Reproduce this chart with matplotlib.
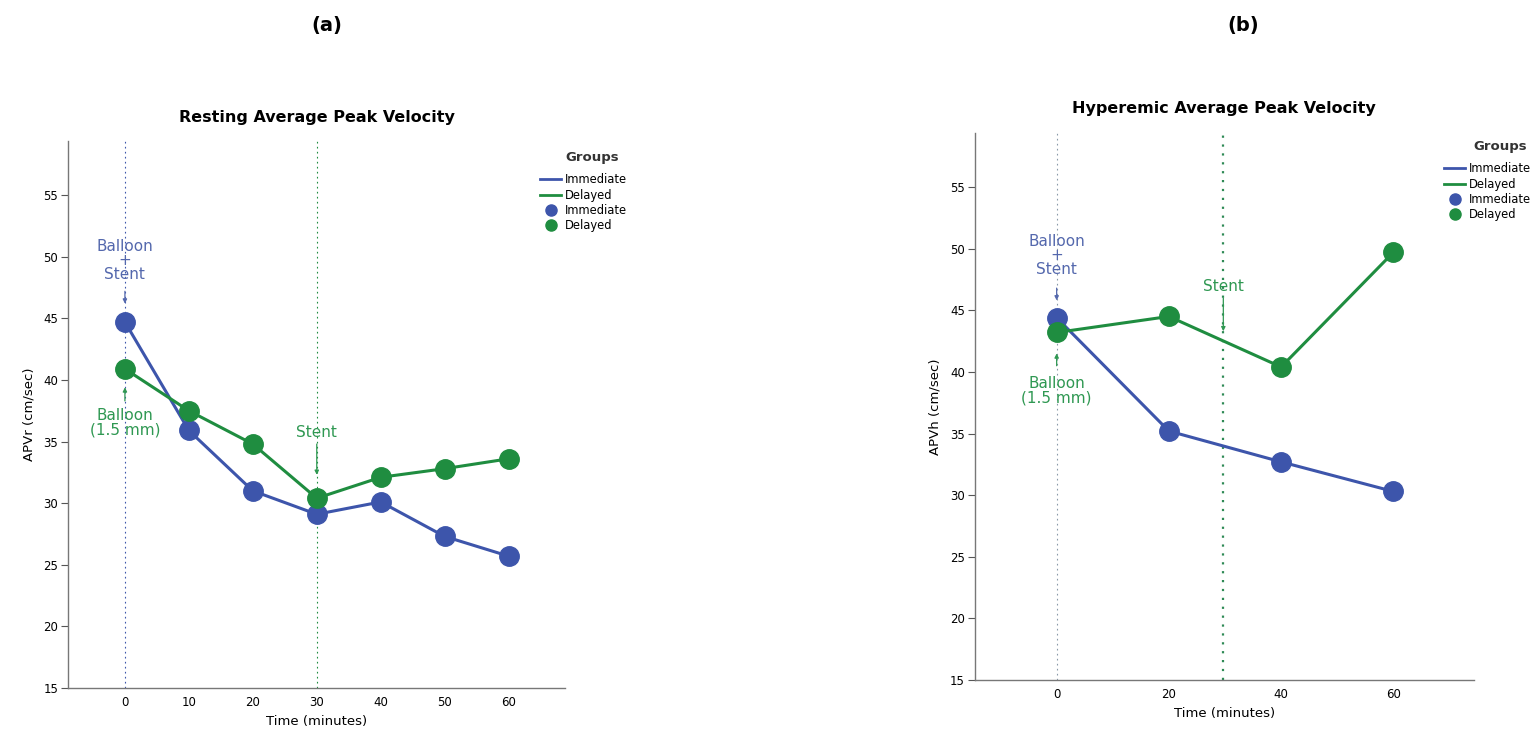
import matplotlib
matplotlib.use("Agg")
import matplotlib.pyplot as plt
from matplotlib.lines import Line2D

# данные: панель (a) — покой
rest_time = [0, 10, 20, 30, 40, 50, 60]
rest_immediate = [44.7, 35.9, 31.0, 29.1, 30.1, 27.3, 25.7]
rest_delayed = [40.9, 37.5, 34.8, 30.4, 32.1, 32.8, 33.6]

# панель (b) — гиперемия
hyp_time = [0, 20, 40, 60]
hyp_immediate = [44.4, 35.2, 32.7, 30.3]
hyp_delayed = [43.2, 44.5, 40.4, 49.7]

y_ticks = [15, 20, 25, 30, 35, 40, 45, 50, 55]
group_labels = ["Immediate", "Delayed"]

BLUE = "#3d55ab"
GREEN = "#1f8d40"
BLUE_TXT = "#5468ad"
GREEN_TXT = "#2f9852"

fig = plt.figure(figsize=(15.35, 7.38), dpi=100)
plt.rcParams["font.family"] = "DejaVu Sans"

fig.text(0.213, 0.965, "(a)", ha="center", va="center", fontsize=14, fontweight="bold")
fig.text(0.810, 0.965, "(b)", ha="center", va="center", fontsize=14, fontweight="bold")

ax1 = fig.add_axes([0.0443, 0.0678, 0.3237, 0.7412])
ax2 = fig.add_axes([0.635, 0.0786, 0.325, 0.7414])


def style_axes(ax, xlim, xticks, title, ylabel):
    ax.set_xlim(*xlim)
    ax.set_ylim(15, 59.4)
    ax.set_yticks(y_ticks)
    ax.set_xticks(xticks)
    ax.tick_params(axis="y", length=5, width=0.8, color="#555555", labelsize=8.5, pad=2)
    ax.tick_params(axis="x", length=0, labelsize=8.5, pad=6)
    for s in ["top", "right"]:
        ax.spines[s].set_visible(False)
    for s in ["left", "bottom"]:
        ax.spines[s].set_color("#777777")
        ax.spines[s].set_linewidth(1.0)
    ax.set_title(title, fontsize=11.5, fontweight="bold", pad=14)
    ax.set_ylabel(ylabel, fontsize=9.5, labelpad=6)
    ax.set_xlabel("Time (minutes)", fontsize=9.5, labelpad=4)


def add_legend(ax, title_xy, anchor):
    # заголовок легенды отдельно — чтобы был зазор как в оригинале
    fig.text(title_xy[0], title_xy[1], "Groups", ha="center", va="center",
             fontsize=9.5, fontweight="bold", color="#333333")
    handles = [
        Line2D([], [], color=BLUE, lw=2),
        Line2D([], [], color=GREEN, lw=2),
        Line2D([], [], color=BLUE, marker="o", ls="none", ms=8),
        Line2D([], [], color=GREEN, marker="o", ls="none", ms=8),
    ]
    ax.legend(handles, group_labels + group_labels,
              bbox_to_anchor=anchor, bbox_transform=fig.transFigure,
              loc="upper left", frameon=False, fontsize=8.3,
              handlelength=1.8, handletextpad=0.3,
              labelspacing=0.2, borderaxespad=0, borderpad=0)


# (a)
style_axes(ax1, (-8.9, 68.8), rest_time, "Resting Average Peak Velocity", "APVr (cm/sec)")
ax1.axvline(0, color=BLUE, lw=0.8, ls=(0, (1.5, 3)), zorder=1)
ax1.axvline(30, color=GREEN, lw=0.8, ls=(0, (1.5, 3)), zorder=1)
ax1.plot(rest_time, rest_immediate, color=BLUE, lw=2.2, marker="o", ms=14, zorder=3)
ax1.plot(rest_time, rest_delayed, color=GREEN, lw=2.2, marker="o", ms=14, zorder=4)

arrow_b = dict(arrowstyle="-|>", color=BLUE_TXT, lw=0.9, mutation_scale=6, shrinkA=0, shrinkB=0)
arrow_g = dict(arrowstyle="-|>", color=GREEN_TXT, lw=0.9, mutation_scale=6, shrinkA=0, shrinkB=0)

ax1.text(0, 49.7, "Balloon\n+\nStent", color=BLUE_TXT, ha="center", va="center",
         fontsize=11, linespacing=0.95)
ax1.annotate("", xy=(0, 46.2), xytext=(0, 47.2), arrowprops=arrow_b)
ax1.annotate("", xy=(0, 39.4), xytext=(0, 38.3), arrowprops=arrow_g)
ax1.text(0, 36.5, "Balloon\n(1.5 mm)", color=GREEN_TXT, ha="center", va="center",
         fontsize=11, linespacing=0.95)
ax1.text(30, 35.7, "Stent", color=GREEN_TXT, ha="center", va="center", fontsize=11)
ax1.annotate("", xy=(30, 32.3), xytext=(30, 34.8), arrowprops=arrow_g)
add_legend(ax1, (0.3855, 0.787), (0.352, 0.765))

# (b)
style_axes(ax2, (-14.6, 74.3), hyp_time, "Hyperemic Average Peak Velocity", "APVh (cm/sec)")
ax2.axvline(0, color="#8a9aa8", lw=0.8, ls=(0, (1.5, 3)), zorder=1)
ax2.axvline(29.7, color="#2e8a55", lw=1.6, ls=(0, (1, 3)), zorder=1)
ax2.plot(hyp_time, hyp_immediate, color=BLUE, lw=2.2, marker="o", ms=14, zorder=3)
ax2.plot(hyp_time, hyp_delayed, color=GREEN, lw=2.2, marker="o", ms=14, zorder=4)

ax2.text(0, 49.45, "Balloon\n+\nStent", color=BLUE_TXT, ha="center", va="center",
         fontsize=11, linespacing=0.95)
ax2.annotate("", xy=(0, 45.8), xytext=(0, 46.8), arrowprops=arrow_b)
ax2.annotate("", xy=(0, 41.5), xytext=(0, 40.5), arrowprops=arrow_g)
ax2.text(0, 38.5, "Balloon\n(1.5 mm)", color=GREEN_TXT, ha="center", va="center",
         fontsize=11, linespacing=0.95)
ax2.text(29.7, 46.9, "Stent", color=GREEN_TXT, ha="center", va="center", fontsize=11)
ax2.annotate("", xy=(29.7, 43.3), xytext=(29.7, 46.0), arrowprops=arrow_g)
add_legend(ax2, (0.977, 0.801), (0.941, 0.780))

fig.savefig("out.png", dpi=100)
